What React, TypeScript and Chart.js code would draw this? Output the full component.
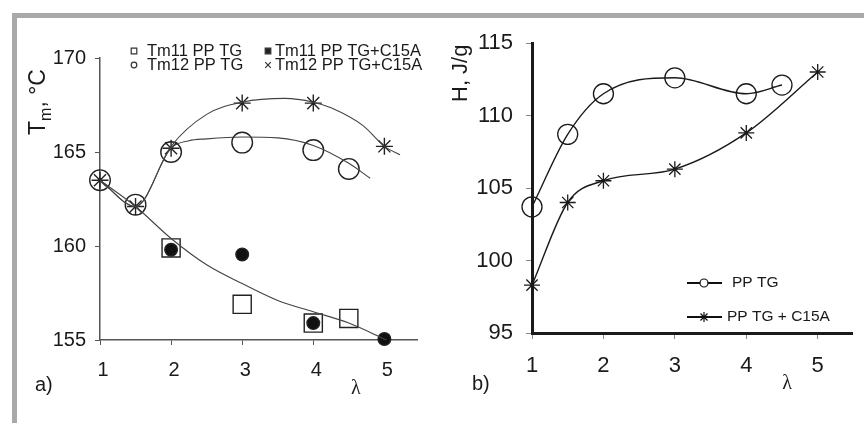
import React, { useEffect, useRef } from "react";
import { Chart, registerables } from "chart.js";
Chart.register(...registerables);

const FONT = "'Liberation Sans', Arial, Helvetica, sans-serif";
const SERIF = "'Liberation Serif', 'Times New Roman', serif";

// ---------- Panel a) : melting temperature ----------
const xTicksA = [1, 2, 3, 4, 5];
const yTicksA = [155, 160, 165, 170];
const legendLabelsA = ["Tm11 PP TG", "Tm11 PP TG+C15A", "Tm12 PP TG", "Tm12 PP TG+C15A"];

const lambdaTm11 = [2, 3, 4, 4.5];
const tm11PPTG = [159.9, 156.9, 155.9, 156.15];
const lambdaTm11C = [2, 3, 4, 5];
const tm11PPTGC15A = [159.8, 159.55, 155.9, 155.05];
const lambdaTm12 = [1, 1.5, 2, 3, 4, 4.5];
const tm12PPTG = [163.5, 162.2, 165.0, 165.5, 165.1, 164.1];
const lambdaTm12C = [1, 1.5, 2, 3, 4, 5];
const tm12PPTGC15A = [163.5, 162.1, 165.2, 167.6, 167.6, 165.3];

// fitted curves
const curveTm11X = [1, 1.5, 2, 2.5, 3, 3.5, 4, 4.5, 5.03];
const curveTm11Y = [163.5, 162.1, 160.4, 159.0, 158.0, 157.1, 156.5, 155.9, 155.0];
const curveTm12X = [1, 1.5, 2, 2.25, 2.5, 3, 3.5, 4, 4.5, 4.8];
const curveTm12Y = [163.5, 162.1, 165.2, 165.6, 165.7, 165.8, 165.75, 165.35, 164.4, 163.6];
const curveTm12CX = [1, 1.5, 2, 2.5, 3, 3.6, 4, 4.25, 4.7, 5, 5.22];
const curveTm12CY = [163.5, 162.1, 165.3, 167.0, 167.65, 167.85, 167.65, 167.35, 166.4, 165.3, 164.85];

// ---------- Panel b) : enthalpy ----------
const xTicksB = [1, 2, 3, 4, 5];
const yTicksB = [95, 100, 105, 110, 115];
const legendLabelsB = ["PP TG", "PP TG + C15A"];
const lambdaB = [1, 1.5, 2, 3, 4, 4.5];
const hPPTG = [103.7, 108.7, 111.5, 112.6, 111.5, 112.1];
const lambdaBC = [1, 1.5, 2, 3, 4, 5];
const hPPTGC15A = [98.3, 104.0, 105.5, 106.3, 108.8, 113.0];

const xy = (xs: number[], ys: number[]) => xs.map((x, i) => ({ x, y: ys[i] }));

function drawMarker(ctx: CanvasRenderingContext2D, style: string, x: number, y: number, r: number, fill: boolean) {
  ctx.beginPath();
  if (style === "rect") {
    ctx.rect(x - r, y - r, 2 * r, 2 * r);
    if (fill) ctx.fill();
    ctx.stroke();
  } else if (style === "circle") {
    ctx.arc(x, y, r, 0, Math.PI * 2);
    if (fill) ctx.fill();
    ctx.stroke();
  } else if (style === "crossRot") {
    ctx.moveTo(x - r, y - r); ctx.lineTo(x + r, y + r);
    ctx.moveTo(x + r, y - r); ctx.lineTo(x - r, y + r);
    ctx.stroke();
  } else if (style === "star") {
    const d = r * Math.SQRT1_2;
    ctx.moveTo(x - r, y); ctx.lineTo(x + r, y);
    ctx.moveTo(x, y - r); ctx.lineTo(x, y + r);
    ctx.moveTo(x - d, y - d); ctx.lineTo(x + d, y + d);
    ctx.moveTo(x + d, y - d); ctx.lineTo(x - d, y + d);
    ctx.stroke();
  }
}

function axisTitle(ctx: CanvasRenderingContext2D, x: number, y: number, size: number, main: string, sub: string, rest: string) {
  ctx.save();
  ctx.translate(x, y);
  ctx.rotate(-Math.PI / 2);
  ctx.fillStyle = "#1a1a1a";
  ctx.textAlign = "left";
  ctx.textBaseline = "alphabetic";
  ctx.font = `${size}px ${FONT}`;
  ctx.fillText(main, 0, 0);
  let w = ctx.measureText(main).width;
  if (sub) {
    ctx.font = `${Math.round(size * 0.7)}px ${FONT}`;
    ctx.fillText(sub, w, size * 0.27);
    w += ctx.measureText(sub).width;
  }
  ctx.font = `${size}px ${FONT}`;
  ctx.fillText(rest, w, 0);
  ctx.restore();
}

const decorA = {
  id: "decorA",
  afterDraw(chart: any) {
    const { ctx, chartArea, scales } = chart;
    const L = chartArea.left, T = chartArea.top, B = chartArea.bottom;
    const styles = ["rect", "rect", "circle", "crossRot"];
    const fills = [false, true, false, false];
    ctx.save();
    ctx.font = `16.5px ${FONT}`;
    ctx.textBaseline = "middle";
    ctx.strokeStyle = "#333";
    ctx.lineWidth = 1.2;
    legendLabelsA.forEach((lab, i) => {
      const col = i % 2, row = Math.floor(i / 2);
      const y = T - 7 + row * 14;
      const mx = L + (col === 0 ? 34 : 168);
      const tx = L + (col === 0 ? 47 : 175);
      ctx.fillStyle = "#222";
      drawMarker(ctx, styles[i], mx, y, 2.8, fills[i]);
      ctx.fillStyle = "#1a1a1a";
      ctx.fillText(lab, tx, y);
    });
    ctx.restore();
    axisTitle(ctx, L - 55, T + 77, 23, "T", "m", ", °C");
    ctx.save();
    ctx.fillStyle = "#1a1a1a";
    ctx.textBaseline = "middle";
    ctx.font = `20px ${FONT}`;
    ctx.textAlign = "left";
    ctx.fillText("a)", L - 65, B + 45);
    ctx.font = `20px ${SERIF}`;
    ctx.textAlign = "center";
    ctx.fillText("λ", scales.x.getPixelForValue(4.6), B + 49);
    ctx.restore();
  },
};

const decorB = {
  id: "decorB",
  afterDraw(chart: any) {
    const { ctx, chartArea, scales } = chart;
    const L = chartArea.left, T = chartArea.top, B = chartArea.bottom;
    ctx.save();
    ctx.strokeStyle = "#111";
    ctx.fillStyle = "#1a1a1a";
    ctx.font = `15.5px ${FONT}`;
    ctx.textBaseline = "middle";
    const rows = [T + 240, T + 274];
    const styles = ["circle", "star"];
    const textX = [L + 200, L + 195];
    legendLabelsB.forEach((lab, i) => {
      const y = rows[i];
      ctx.lineWidth = 2;
      ctx.beginPath();
      ctx.moveTo(L + 155, y);
      ctx.lineTo(L + 190, y);
      ctx.stroke();
      ctx.lineWidth = 1.2;
      ctx.fillStyle = "#fff";
      drawMarker(ctx, styles[i], L + 172, y, i === 0 ? 4 : 5, i === 0);
      ctx.fillStyle = "#1a1a1a";
      ctx.fillText(lab, textX[i], y);
    });
    ctx.restore();
    axisTitle(ctx, L - 65, T + 59, 22, "H, J/g", "", "");
    ctx.save();
    ctx.fillStyle = "#1a1a1a";
    ctx.textBaseline = "middle";
    ctx.font = `20px ${FONT}`;
    ctx.textAlign = "left";
    ctx.fillText("b)", L - 60, B + 51);
    ctx.font = `20px ${SERIF}`;
    ctx.textAlign = "center";
    ctx.fillText("λ", scales.x.getPixelForValue(4.57), B + 51);
    ctx.restore();
  },
};

const baseOptions = {
  responsive: false,
  animation: false as const,
  devicePixelRatio: 1,
  events: [] as any[],
  plugins: { legend: { display: false }, tooltip: { enabled: false } },
};

function configA(): any {
  const curve = (xs: number[], ys: number[]) => ({
    type: "line",
    data: xy(xs, ys),
    borderColor: "#444",
    borderWidth: 1.1,
    pointRadius: 0,
    cubicInterpolationMode: "monotone",
    fill: false,
    clip: false,
  });
  const pts = (label: string, xs: number[], ys: number[], style: string, r: number, filled: boolean) => ({
    type: "line",
    label,
    data: xy(xs, ys),
    showLine: false,
    pointStyle: style,
    pointRadius: r,
    pointBorderColor: "#222",
    pointBorderWidth: 1.4,
    pointBackgroundColor: filled ? "#111" : "rgba(0,0,0,0)",
    clip: false,
  });
  return {
    type: "line",
    data: {
      datasets: [
        curve(curveTm11X, curveTm11Y),
        curve(curveTm12X, curveTm12Y),
        curve(curveTm12CX, curveTm12CY),
        pts(legendLabelsA[0], lambdaTm11, tm11PPTG, "rect", 12.8, false),
        pts(legendLabelsA[1], lambdaTm11C, tm11PPTGC15A, "circle", 6.3, true),
        pts(legendLabelsA[2], lambdaTm12, tm12PPTG, "circle", 10.3, false),
        pts(legendLabelsA[3], lambdaTm12C, tm12PPTGC15A, "star", 8.5, false),
      ],
    },
    options: {
      ...baseOptions,
      layout: { padding: { left: 0, top: 58, right: 12, bottom: 0 } },
      scales: {
        x: {
          type: "linear",
          min: 1,
          max: 5.47,
          afterFit: (s: any) => { s.height = 83; },
          afterBuildTicks: (s: any) => { s.ticks = xTicksA.map((v) => ({ value: v })); },
          ticks: { font: { family: FONT, size: 20 }, color: "#1a1a1a", padding: 13, labelOffset: 3, maxRotation: 0, autoSkip: false },
          grid: { drawOnChartArea: false, tickLength: 5, color: "#555" },
          border: { color: "#555", width: 1.5 },
        },
        y: {
          type: "linear",
          min: 155,
          max: 170,
          afterFit: (s: any) => { s.width = 100; },
          afterBuildTicks: (s: any) => { s.ticks = yTicksA.map((v) => ({ value: v })); },
          ticks: { font: { family: FONT, size: 20 }, color: "#1a1a1a", padding: 9 },
          grid: { drawOnChartArea: false, tickLength: 5, color: "#555" },
          border: { color: "#555", width: 1.5 },
        },
      },
    },
    plugins: [decorA],
  };
}

function configB(): any {
  const series = (label: string, xs: number[], ys: number[], style: string, r: number) => ({
    type: "line",
    label,
    data: xy(xs, ys),
    borderColor: "#1a1a1a",
    borderWidth: 1.4,
    cubicInterpolationMode: "monotone",
    pointStyle: style,
    pointRadius: r,
    pointBorderColor: "#1a1a1a",
    pointBorderWidth: 1.3,
    pointBackgroundColor: "rgba(0,0,0,0)",
    fill: false,
    clip: false,
  });
  return {
    type: "line",
    data: {
      datasets: [
        series(legendLabelsB[0], lambdaB, hPPTG, "circle", 10),
        series(legendLabelsB[1], lambdaBC, hPPTGC15A, "star", 8),
      ],
    },
    options: {
      ...baseOptions,
      layout: { padding: { left: 0, top: 43, right: 0, bottom: 0 } },
      scales: {
        x: {
          type: "linear",
          min: 1,
          max: 5.49,
          afterFit: (s: any) => { s.height = 90; },
          afterBuildTicks: (s: any) => { s.ticks = xTicksB.map((v) => ({ value: v })); },
          ticks: { font: { family: FONT, size: 22 }, color: "#1a1a1a", padding: 14, maxRotation: 0, autoSkip: false },
          grid: { drawOnChartArea: false, tickLength: 6, color: "#888" },
          border: { color: "#1a1a1a", width: 3 },
        },
        y: {
          type: "linear",
          min: 95,
          max: 115,
          afterFit: (s: any) => { s.width = 100; },
          afterBuildTicks: (s: any) => { s.ticks = yTicksB.map((v) => ({ value: v })); },
          ticks: { font: { family: FONT, size: 22 }, color: "#1a1a1a", padding: 13 },
          grid: { drawOnChartArea: false, tickLength: 6, color: "#888" },
          border: { color: "#1a1a1a", width: 3 },
        },
      },
    },
    plugins: [decorB],
  };
}

export default function App() {
  const refA = useRef<HTMLCanvasElement>(null);
  const refB = useRef<HTMLCanvasElement>(null);
  useEffect(() => {
    const a = new Chart(refA.current as HTMLCanvasElement, configA());
    const b = new Chart(refB.current as HTMLCanvasElement, configB());
    return () => {
      a.destroy();
      b.destroy();
    };
  }, []);
  return (
    <div style={{ position: "absolute", left: 0, top: 0, width: 864, height: 423, background: "#fff", overflow: "hidden" }}>
      <canvas ref={refA} width={432} height={423} style={{ position: "absolute", left: 0, top: 0, width: 432, height: 423 }} />
      <canvas ref={refB} width={432} height={423} style={{ position: "absolute", left: 432, top: 0, width: 432, height: 423 }} />
      <div style={{ position: "absolute", left: 12, top: 13, width: 852, height: 5, background: "#a9a9a9" }} />
      <div style={{ position: "absolute", left: 12, top: 13, width: 5, height: 410, background: "#a9a9a9" }} />
    </div>
  );
}
